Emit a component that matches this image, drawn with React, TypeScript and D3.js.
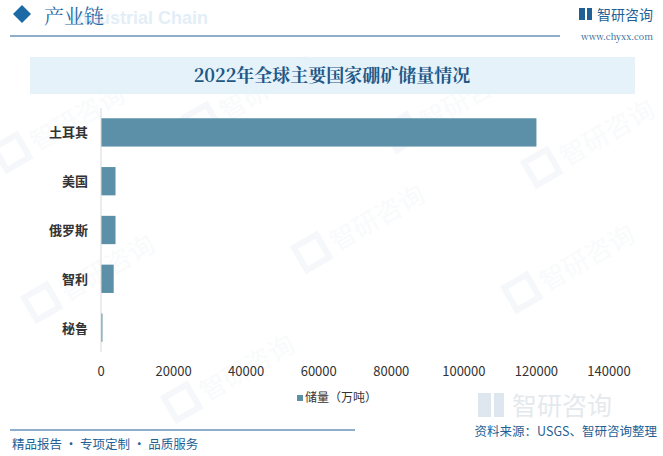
import React from "react";
import * as d3 from "d3";

const categories = ["土耳其", "美国", "俄罗斯", "智利", "秘鲁"];
const values = [120000, 4000, 4000, 3500, 400];
const xTicks = [0, 20000, 40000, 60000, 80000, 100000, 120000, 140000];
const seriesName = "储量（万吨）";
const title = "2022年全球主要国家硼矿储量情况";

const W = 663;
const H = 456;

export default function App() {
  const x = d3.scaleLinear().domain([0, 140000]).range([101, 609]);
  const y = d3.scaleBand<string>().domain(categories).range([108, 352]).paddingInner(0.42).paddingOuter(0.21);
  const sans = "'Microsoft YaHei', 'Noto Sans CJK SC', sans-serif";
  const serif = "'Noto Serif CJK SC', 'Noto Sans CJK SC', serif";
  const wm = [
    [30, 150], [220, 120], [420, 130], [560, 165],
    [60, 300], [330, 250], [540, 290], [200, 400],
  ];
  return (
    <svg width={W} height={H} style={{ position: "absolute", left: 0, top: 0, background: "#fff" }}>
      <rect x={0} y={0} width={W} height={H} fill="#fff" />
      {/* watermarks */}
      {wm.map(([wx, wy], i) => (
        <g key={i} transform={`translate(${wx},${wy}) rotate(-30)`} opacity={0.35}>
          <rect x={-30} y={-20} width={26} height={26} fill="none" stroke="#e3ebf3" strokeWidth={6} />
          <text x={5} y={5} fontSize={26} fill="#eef2f6" fontFamily={sans}>智研咨询</text>
        </g>
      ))}
      {/* header */}
      <path d="M22,5 L31,14 L22,23 L13,14 Z" fill="#1b6aa5" />
      <text x={140} y={24} fontSize={18} fontWeight="bold" fill="#e3eef7" fontFamily="Arial, sans-serif" textAnchor="middle">Industrial Chain</text>
      <text x={44} y={24} fontSize={20} fill="#1f6aa5" fontFamily={serif}>产业链</text>
      <line x1={10} y1={36} x2={560} y2={36} stroke="#1f5f95" strokeWidth={1.2} />
      <rect x={579} y={8} width={6} height={12} fill="#1f5f95" />
      <rect x={587} y={8} width={5} height={12} fill="#1f5f95" />
      <text x={597} y={20} fontSize={14} fill="#1f5f95" fontFamily={sans}>智研咨询</text>
      <text x={617} y={40} fontSize={9} fill="#1f5f95" fontFamily={serif} textAnchor="middle">www.chyxx.com</text>
      {/* title */}
      <rect x={30} y={57} width={605} height={37} fill="#e6f2fa" />
      <text x={332} y={82} fontSize={18} fontWeight="bold" fill="#1d5886" fontFamily={serif} textAnchor="middle">{title}</text>
      {/* bars */}
      {categories.map((c, i) => (
        <rect key={c} x={x(0)} y={y(c)!} width={Math.max(1, x(values[i]) - x(0))} height={y.bandwidth()} fill="#5b90a8" />
      ))}
      <line x1={x(0)} y1={108} x2={x(0)} y2={352} stroke="#d9d9d9" strokeWidth={1} />
      {categories.map((c) => (
        <text key={c} x={88} y={y(c)! + y.bandwidth() / 2 + 5} fontSize={13} fontWeight="bold" fill="#333" fontFamily={sans} textAnchor="end">{c}</text>
      ))}
      {xTicks.map((t) => (
        <text key={t} x={x(t)} y={376} fontSize={13} fill="#333" fontFamily={sans} textAnchor="middle">{t}</text>
      ))}
      {/* legend */}
      <rect x={297} y={395} width={6} height={6} fill="#5b90a8" />
      <text x={305} y={402} fontSize={12} fill="#333" fontFamily={sans}>{seriesName}</text>
      {/* bottom-right logo */}
      <g opacity={0.45}>
        <rect x={478} y={393} width={13} height={24} fill="#b8c9dc" />
        <rect x={494} y={393} width={10} height={24} fill="#b8c9dc" />
        <text x={512} y={415} fontSize={25} fill="#c4cfd9" fontFamily={sans}>智研咨询</text>
      </g>
      {/* footer */}
      <line x1={10} y1={430} x2={355} y2={430} stroke="#1f5f95" strokeWidth={1.2} />
      <text x={12} y={449} fontSize={12.5} fill="#1f5f95" fontFamily={sans}>精品报告 · 专项定制 · 品质服务</text>
      <text x={657} y={436} fontSize={12.5} fill="#1f5f95" fontFamily={sans} textAnchor="end">资料来源：USGS、智研咨询整理</text>
    </svg>
  );
}
